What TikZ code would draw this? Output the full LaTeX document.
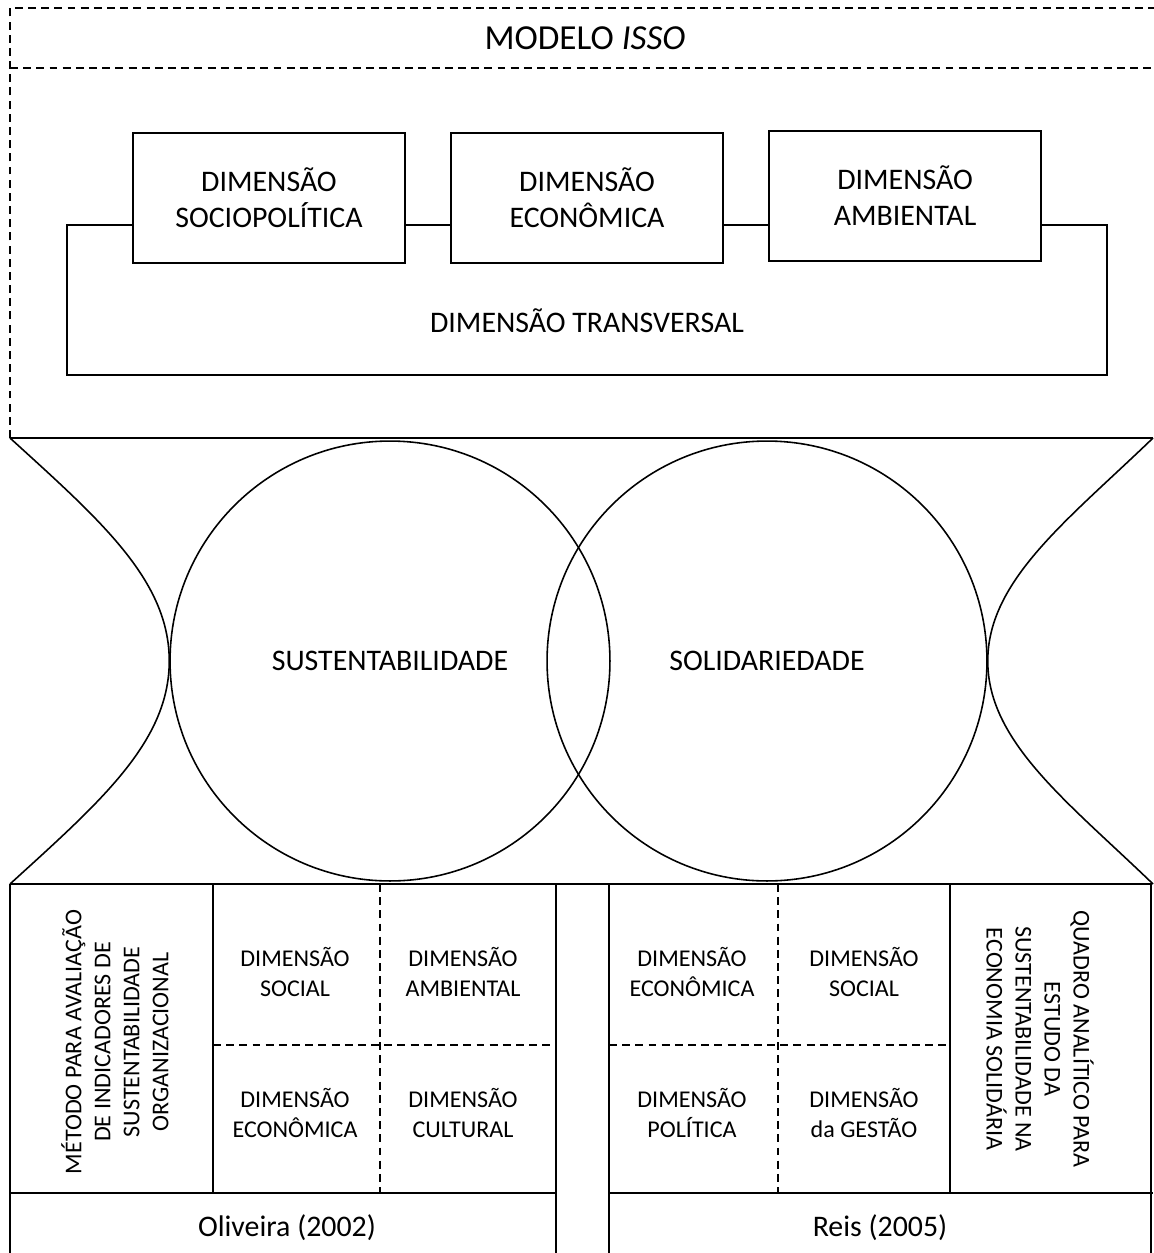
\documentclass[tikz,border=0pt]{standalone}
\usepackage{fontspec}
\setmainfont{Carlito}
\usetikzlibrary{positioning}
\tikzstyle{dimbox} = [
	rectangle,
	draw=black,
	fill=white,
	line width=0.9pt,
	minimum width=5.45cm,
	minimum height=2.6cm,
	align=center,
	font=\fontsize{17}{20.5}\selectfont
]
\tikzstyle{circ} = [
	circle,
	draw=black,
	line width=0.9pt,
	minimum size=8.8cm,
	font=\fontsize{17}{20.5}\selectfont
]
\tikzstyle{cellbox} = [
	align=center,
	font=\fontsize{13.7}{17}\selectfont
]
\tikzstyle{sidetext} = [
	align=center,
	font=\fontsize{13.7}{16.5}\selectfont
]
\tikzstyle{edgeline} = [line width=0.9pt]
\tikzstyle{cutline} = [line width=0.9pt, dash pattern=on 4.5pt off 3pt]

\begin{document}
\begin{tikzpicture}[x=0.02cm, y=-0.02cm, node distance=0.88cm]
	\useasboundingbox (0,0) rectangle (1153,1253);
	% modelo
	\draw [cutline] (10,438) -- (10,8) -- (1160,8);
	\draw [cutline] (10,68) -- (1160,68);
	\node (title) at (585,38) {\fontsize{20}{24}\selectfont MODELO \textit{ISSO}};
	\node (transv) [rectangle, draw=black, edgeline, minimum width=20.8cm, minimum height=3cm] at (587,300) {};
	\node (transvlabel) [font=\fontsize{17}{20.5}\selectfont] at (587,321) {DIMENSÃO TRANSVERSAL};
	\node (econ) [dimbox] at (587,198) {DIMENSÃO\\ECONÔMICA};
	\node (socpol) [dimbox, left=of econ] {DIMENSÃO\\SOCIOPOLÍTICA};
	\node (amb) [dimbox, right=of econ, yshift=0.04cm] {DIMENSÃO\\AMBIENTAL};
	
	% circulos
	\draw [edgeline] (10,438) -- (1153,438);
	\draw [edgeline] (10,884) -- (1152,884);
	\node (sust) [circ] at (390,661) {SUSTENTABILIDADE};
	\node (solid) [circ] at (767,661) {SOLIDARIEDADE};
	\coordinate (tl) at (10,438);
	\coordinate (bl) at (10,884);
	\coordinate (tr) at (1153,438);
	\coordinate (br) at (1153,884);
	\draw [edgeline] (tl) .. controls (100,520) and (sust.west |- 0,580) .. (sust.west)
		.. controls (sust.west |- 0,742) and (100,802) .. (bl);
	\draw [edgeline] (tr) .. controls (1068,520) and (solid.east |- 0,580) .. (solid.east)
		.. controls (solid.east |- 0,742) and (1068,802) .. (br);
	
	% Oliveira (2002)
	\draw [edgeline] (10,1260) -- (10,884);
	\draw [edgeline] (556,1260) -- (556,884);
	\draw [edgeline] (213,884) -- (213,1193);
	\draw [edgeline] (10,1193) -- (556,1193);
	\draw [cutline] (380,884) -- (380,1193);
	\draw [cutline] (213,1045) -- (556,1045);
	\node (metodo) [sidetext, rotate=90] at (115,1042) {MÉTODO PARA AVALIAÇÃO\\DE INDICADORES DE\\SUSTENTABILIDADE\\ORGANIZACIONAL};
	\node (osocial) [cellbox] at (295,972) {DIMENSÃO\\SOCIAL};
	\node (oamb) [cellbox] at (463,972) {DIMENSÃO\\AMBIENTAL};
	\node (oecon) [cellbox] at (295,1113) {DIMENSÃO\\ECONÔMICA};
	\node (ocult) [cellbox] at (463,1113) {DIMENSÃO\\CULTURAL};
	\node (oliveira) [font=\fontsize{17}{20.5}\selectfont] at (287,1228) {Oliveira (2002)};
	
	% Reis (2005)
	\draw [edgeline] (609,1260) -- (609,884);
	\draw [edgeline] (1151,1260) -- (1151,884);
	\draw [edgeline] (950,884) -- (950,1193);
	\draw [edgeline] (609,1193) -- (1153,1193);
	\draw [cutline] (778,884) -- (778,1193);
	\draw [cutline] (609,1045) -- (950,1045);
	\node (quadro) [sidetext, rotate=-90] at (1040,1039) {QUADRO ANALÍTICO PARA\\ESTUDO DA\\SUSTENTABILIDADE NA\\ECONOMIA SOLIDÁRIA};
	\node (recon) [cellbox] at (692,972) {DIMENSÃO\\ECONÔMICA};
	\node (rsocial) [cellbox] at (864,972) {DIMENSÃO\\SOCIAL};
	\node (rpol) [cellbox] at (692,1113) {DIMENSÃO\\POLÍTICA};
	\node (rgest) [cellbox] at (864,1113) {DIMENSÃO\\da GESTÃO};
	\node (reis) [font=\fontsize{17}{20.5}\selectfont] at (880,1228) {Reis (2005)};
\end{tikzpicture}
\end{document}
